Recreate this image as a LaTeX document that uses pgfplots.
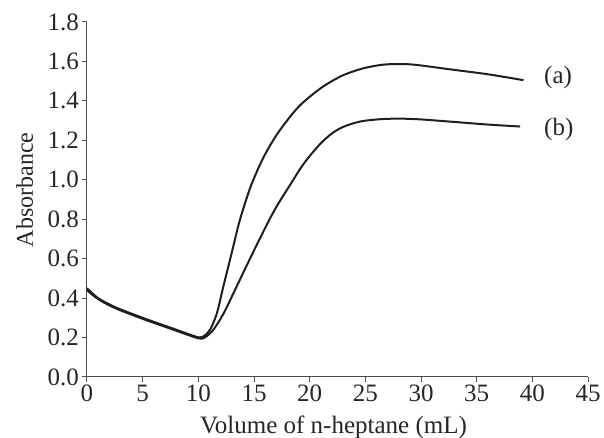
\documentclass[border=0pt]{standalone}
\usepackage{pgfplots}
\pgfplotsset{compat=1.18}
\usepackage{fontspec}
\setmainfont{Liberation Serif}
\begin{document}
\fontsize{25}{30}\selectfont
\begin{tikzpicture}
\begin{axis}[
  scale only axis,
  width=501pt, height=355pt,
  xmin=0, xmax=45, ymin=0, ymax=1.8,
  axis lines=left,
  axis line style={-, draw=black!70, line width=1pt},
  tick style={draw=black!70, line width=1pt},
  tick align=outside,
  major tick length=5pt,
  xtick={0,5,...,45},
  ytick={0,0.2,...,1.8},
  /pgf/number format/assume math mode=true,
  ticklabel style={font=\fontsize{25}{30}\selectfont, text=black!85},
  yticklabel style={inner xsep=3pt, /pgf/number format/fixed, /pgf/number format/fixed zerofill, /pgf/number format/precision=1},
  xticklabel style={inner ysep=3pt},
  xlabel={Volume of n-heptane (mL)},
  ylabel={Absorbance},
  xlabel style={font=\fontsize{25}{30}\selectfont, text=black!85, at={([yshift=-56pt]rel axis cs:0.492,0)}, anchor=base},
  ylabel style={font=\fontsize{24}{28}\selectfont, text=black!85, at={([xshift=-54pt]rel axis cs:0,0.527)}, anchor=base},
  clip=false,
]
\coordinate (o) at (rel axis cs:0,0);
\coordinate (t) at (rel axis cs:1,1);
\addplot[smooth, tension=0.5, line width=2pt, color=black!88] coordinates {
(0,0.45)(1,0.40)(2.5,0.355)(5,0.30)(7.5,0.25)(9.5,0.21)(10.15,0.20)(10.5,0.207)(11.05,0.24)(11.65,0.32)(12.25,0.46)(13.0,0.63)(13.7,0.79)(14.6,0.95)(15.4,1.06)(16.1,1.14)(17.0,1.225)(17.9,1.295)(19.0,1.37)(20.2,1.43)(21.4,1.48)(23.0,1.53)(24.8,1.565)(26.5,1.583)(28,1.587)(29.5,1.583)(32.6,1.56)(36,1.535)(39.2,1.505)
};
\addplot[smooth, tension=0.5, line width=2pt, color=black!88] coordinates {
(0,0.44)(1,0.395)(2.5,0.35)(5,0.295)(7.5,0.245)(9.5,0.205)(10.25,0.194)(10.7,0.205)(11.35,0.24)(12.25,0.32)(13.45,0.46)(14.9,0.63)(16.4,0.80)(17.3,0.89)(18.2,0.97)(19.2,1.06)(20.0,1.12)(21.0,1.185)(22.0,1.235)(23.0,1.268)(24.5,1.295)(26.3,1.307)(28.1,1.31)(30,1.306)(32.6,1.295)(36,1.28)(38.9,1.27)
};
\node[anchor=west, text=black!85] at (axis cs:40.3,1.52) {(a)};
\node[anchor=west, text=black!85] at (axis cs:40.3,1.255) {(b)};
\end{axis}
\pgfresetboundingbox
\path ([shift={(-87pt,-61pt)}]o) rectangle ([shift={(16pt,22pt)}]t);
\end{tikzpicture}
\end{document}
